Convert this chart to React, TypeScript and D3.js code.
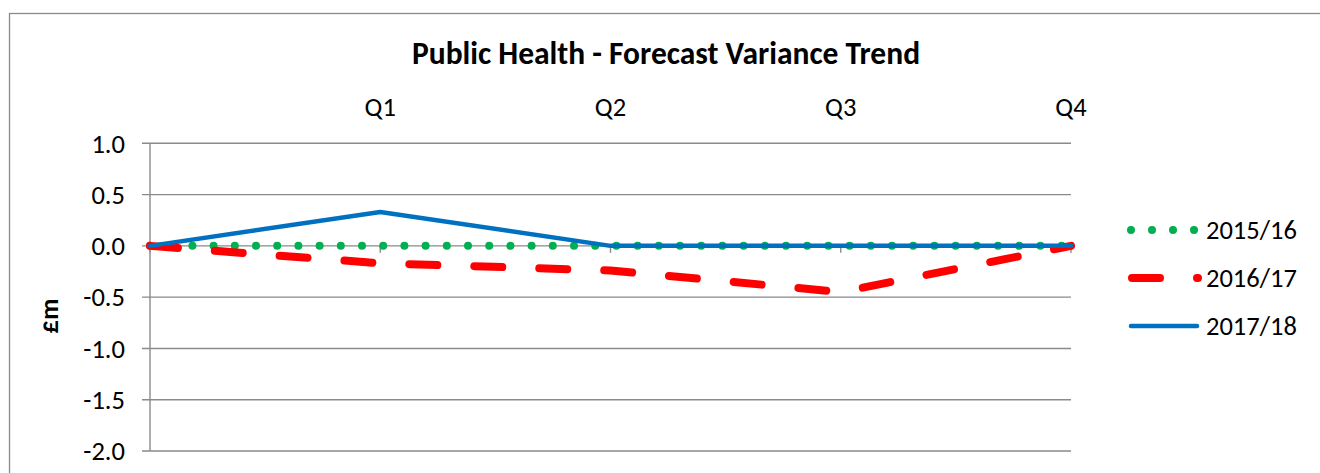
import React from "react";
import * as d3 from "d3";

const categories = ["", "Q1", "Q2", "Q3", "Q4"];
const series1516 = [0, 0, 0, 0, 0];
const series1617 = [0, -0.17, -0.24, -0.45, 0];
const series1718 = [0, 0.33, 0, 0, 0];
const yTicks = [-2, -1.5, -1, -0.5, 0, 0.5, 1];
const seriesNames = ["2015/16", "2016/17", "2017/18"];
const title = "Public Health - Forecast Variance Trend";
const yTitle = "£m";

const FONT = "Carlito, Calibri, 'Open Sans', sans-serif";
const GRID = "#8a8a8a";
const FS = 26.5;

export default function App() {
  const W = 1320, H = 473;
  const x = d3.scalePoint<string>().domain(categories).range([150, 1071]);
  const y = d3.scaleLinear().domain([-2, 1]).range([451, 143.3]);
  const line = d3
    .line<number>()
    .x((_, i) => x(categories[i]) as number)
    .y((d) => y(d));
  const fmt = (t: number) => d3.format(".1f")(t).replace("\u2212", "-");

  const styles = [
    { color: "#00B050", width: 8, dash: "0 21.2", cap: "round" as const },
    { color: "#FF0000", width: 8, dash: "28 37", cap: "round" as const },
    { color: "#0070C0", width: 4.5, dash: undefined, cap: "round" as const },
  ];
  const legendDash = ["0 21", "28 37", undefined];
  const data = [series1516, series1617, series1718];
  const legendY = [230, 278, 326];
  const legendX: [number, number][] = [
    [1131, 1194.5],
    [1132, 1198],
    [1131, 1197],
  ];

  return (
    <svg
      width={W}
      height={H}
      style={{ position: "absolute", left: 0, top: 0, background: "#fff" }}
      fontFamily={FONT}
    >
      <rect x={0} y={0} width={W} height={H} fill="#fff" />
      <rect x={9.5} y={13.5} width={1400} height={600} fill="none" stroke={GRID} strokeWidth={1.3} />
      <text x={666} y={64} textAnchor="middle" fontWeight="bold" fontSize={31.5} fill="#000">
        {title}
      </text>
      {yTicks.map((t) => (
        <g key={t}>
          <line x1={142} x2={1071} y1={y(t)} y2={y(t)} stroke={GRID} strokeWidth={1.4} />
          <text x={125} y={y(t)} dy="0.35em" textAnchor="end" fontSize={FS} fill="#000">
            {fmt(t)}
          </text>
        </g>
      ))}
      <line x1={150} x2={150} y1={y(1)} y2={y(-2)} stroke={GRID} strokeWidth={1.4} />
      {categories.map((c) => (
        <g key={c || "start"}>
          <line x1={x(c)} x2={x(c)} y1={y(0)} y2={y(0) + 7} stroke={GRID} strokeWidth={1.4} />
          <text x={x(c)} y={116} textAnchor="middle" fontSize={FS} fill="#000">
            {c}
          </text>
        </g>
      ))}
      <text
        transform={`translate(58,316) rotate(-90)`}
        textAnchor="middle"
        fontWeight="bold"
        fontSize={FS}
        fill="#000"
      >
        {yTitle}
      </text>
      {data.map((d, i) => (
        <path
          key={i}
          d={line(d) || ""}
          fill="none"
          stroke={styles[i].color}
          strokeWidth={styles[i].width}
          strokeDasharray={styles[i].dash}
          strokeLinecap={styles[i].cap}
          strokeLinejoin="round"
        />
      ))}
      {seriesNames.map((n, i) => (
        <g key={n}>
          <line
            x1={legendX[i][0]}
            x2={legendX[i][1]}
            y1={legendY[i]}
            y2={legendY[i]}
            stroke={styles[i].color}
            strokeWidth={styles[i].width}
            strokeDasharray={legendDash[i]}
            strokeLinecap={styles[i].cap}
          />
          <text x={1206} y={legendY[i]} dy="0.35em" fontSize={FS} fill="#000">
            {n}
          </text>
        </g>
      ))}
    </svg>
  );
}
